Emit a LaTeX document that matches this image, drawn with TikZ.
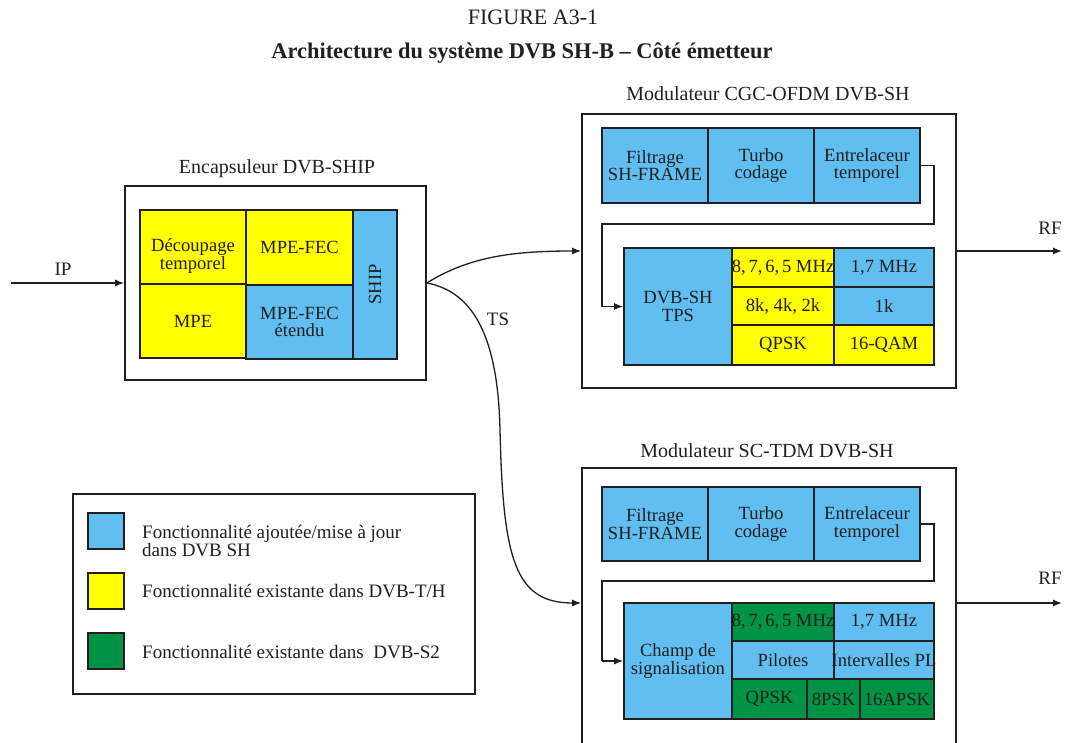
\documentclass[tikz,border=0pt]{standalone}
\usepackage{fontspec}
\setmainfont{Liberation Serif}
\usetikzlibrary{arrows.meta}
\definecolor{fblue}{RGB}{96,190,240}
\definecolor{fyellow}{RGB}{255,255,0}
\definecolor{fgreen}{RGB}{0,146,69}
\definecolor{ink}{RGB}{35,31,32}
\tikzset{
  cell/.style={draw=ink, line width=1.7pt, inner sep=0pt, align=center, text=ink,
    font=\fontsize{18.6}{17.5}\selectfont},
  blu/.style={cell, fill=fblue},
  yel/.style={cell, fill=fyellow},
  grn/.style={cell, fill=fgreen},
  frame/.style={draw=ink, line width=1.7pt, inner sep=0pt},
  lbl/.style={text=ink, inner sep=0pt, font=\fontsize{19}{18}\selectfont},
  ttl/.style={text=ink, inner sep=0pt, font=\fontsize{20}{20}\selectfont},
  conn/.style={draw=ink, line width=1.3pt, -{Latex[length=9pt,width=7pt]}},
  pipe/.style={draw=ink, line width=1.3pt},
  leg/.style={text=ink, inner sep=0pt, align=left, anchor=west, font=\fontsize{19}{17}\selectfont}
}
\begin{document}
\begin{tikzpicture}[x=1pt,y=-1pt]
\useasboundingbox (0,0) rectangle (1065,743);
\clip (0,0) rectangle (1065,743);
\fill[white] (0,0) rectangle (1065,743);

% titles
\node[text=ink, font=\fontsize{22}{22}\selectfont] (fig) at (533,17) {FIGURE A3-1};
\node[text=ink, font=\fontsize{22.4}{22}\selectfont\bfseries] (arch) at (522,53) {Architecture du système DVB SH-B – Côté émetteur};

% Encapsuleur
\node[frame, minimum width=301, minimum height=194] (enc) at (275.5,283) {};
\node[ttl] (enct) at (277,169) {Encapsuleur DVB-SHIP};
\node[yel, minimum width=106, minimum height=75] (dec) at (193,247.5) {};
\node[cell, draw=none, fill=none] (dect) at (193,256) {Découpage\\temporel};
\node[yel, minimum width=107, minimum height=75] (fec) at (299.5,247.5) {MPE-FEC};
\node[yel, minimum width=106, minimum height=74] (mpe) at (193,321) {MPE};
\node[blu, minimum width=107, minimum height=74] (fece) at (299.5,322) {MPE-FEC\\étendu};
\node[blu, minimum width=44, minimum height=149] (ship) at (375,284.5) {\rotatebox{90}{SHIP}};

% IP input
\coordinate (ipin) at (11,283);
\draw[conn] (ipin) -- (enc.west);
\node[lbl] (ip) at (63,269) {IP};

% Modulateur CGC-OFDM
\node[frame, minimum width=374, minimum height=274] (mod1) at (769,251) {};
\node[ttl] (mod1t) at (768,94) {Modulateur CGC-OFDM DVB-SH};
\node[blu, minimum width=106, minimum height=75] (f1) at (655,165.5) {Filtrage\\SH-FRAME};
\node[blu, minimum width=106, minimum height=75] (t1) at (761,165.5) {Turbo\\codage};
\node[blu, minimum width=106, minimum height=75] (e1) at (867,165.5) {Entrelaceur\\temporel};
\node[blu, minimum width=108, minimum height=117] (tps) at (678,306.5) {DVB-SH\\TPS};
\node[yel, minimum width=102, minimum height=39] (a11) at (783,267.5) {\makebox[0pt]{8,\hspace{0.15em}7,\hspace{0.15em}6,\hspace{0.15em}5 MHz}};
\node[blu, minimum width=100, minimum height=39] (a12) at (884,267.5) {1,7 MHz};
\node[yel, minimum width=102, minimum height=38] (a21) at (783,306) {8k, 4k, 2k};
\node[blu, minimum width=100, minimum height=38] (a22) at (884,306) {1k};
\node[yel, minimum width=102, minimum height=40] (a31) at (783,345) {QPSK};
\node[yel, minimum width=100, minimum height=40] (a32) at (884,345) {16-QAM};
\draw[pipe] (e1.east) -- (934,165.5) -- (934,224) -- (602,224) -- (602,306.5);
\coordinate (k1) at (602,306.5);
\draw[conn] (k1) -- (tps.west);
\coordinate (rf1) at (1062,251);
\draw[conn] (mod1.east) -- (rf1);
\node[lbl] (rf1t) at (1050,228) {RF};

% Modulateur SC-TDM
\node[frame, minimum width=374, minimum height=332] (mod2) at (769,634) {};
\node[ttl] (mod2t) at (767,451) {Modulateur SC-TDM DVB-SH};
\node[blu, minimum width=106, minimum height=74] (f2) at (655,524) {Filtrage\\SH-FRAME};
\node[blu, minimum width=106, minimum height=74] (t2) at (761,524) {Turbo\\codage};
\node[blu, minimum width=106, minimum height=74] (e2) at (867,524) {Entrelaceur\\temporel};
\node[blu, minimum width=108, minimum height=116] (champ) at (678,661) {Champ de\\signalisation};
\node[grn, minimum width=102, minimum height=38] (b11) at (783,622) {\makebox[0pt]{8,\hspace{0.15em}7,\hspace{0.15em}6,\hspace{0.15em}5 MHz}};
\node[blu, minimum width=100, minimum height=38] (b12) at (884,622) {1,7 MHz};
\node[blu, minimum width=102, minimum height=38] (b21) at (783,660) {Pilotes};
\node[blu, minimum width=100, minimum height=38] (b22) at (884,660) {\makebox[0pt]{Intervalles PL}};
\node[grn, minimum width=75, minimum height=40] (b31) at (769.5,699) {QPSK};
\node[grn, minimum width=53, minimum height=40] (b32) at (833.5,699) {8PSK};
\node[grn, minimum width=74, minimum height=40] (b33) at (897,699) {16APSK};
\draw[pipe] (e2.east) -- (934,524) -- (934,581) -- (602,581) -- (602,661);
\coordinate (k2) at (602,661);
\draw[conn] (k2) -- (champ.west);
\coordinate (rf2) at (1062,603);
\draw[conn] (mod2.east |- rf2) -- (rf2);
\node[lbl] (rf2t) at (1050,578) {RF};

% TS connectors
\draw[conn] (enc.east) .. controls (470,256) and (515,251) .. (mod1.west);
\draw[conn] (enc.east) .. controls (475,292) and (498,340) .. (500,430)
   .. controls (503,560) and (515,603) .. (mod2.west |- rf2);
\node[lbl] (ts) at (498,319) {TS};

% Legend
\node[frame, minimum width=402, minimum height=200] (legend) at (274,594) {};
\node[blu, minimum width=36, minimum height=36] (sw1) at (106,531) {};
\node[yel, minimum width=36, minimum height=36] (sw2) at (106,591) {};
\node[grn, minimum width=36, minimum height=36] (sw3) at (106,651) {};
\node[leg] (lt1) at (142,541) {Fonctionnalité ajoutée/mise à jour\\dans DVB SH};
\node[leg] (lt2) at (142,591) {Fonctionnalité existante dans DVB-T/H};
\node[leg] (lt3) at (142,652) {Fonctionnalité existante dans \ DVB-S2};
\end{tikzpicture}
\end{document}
